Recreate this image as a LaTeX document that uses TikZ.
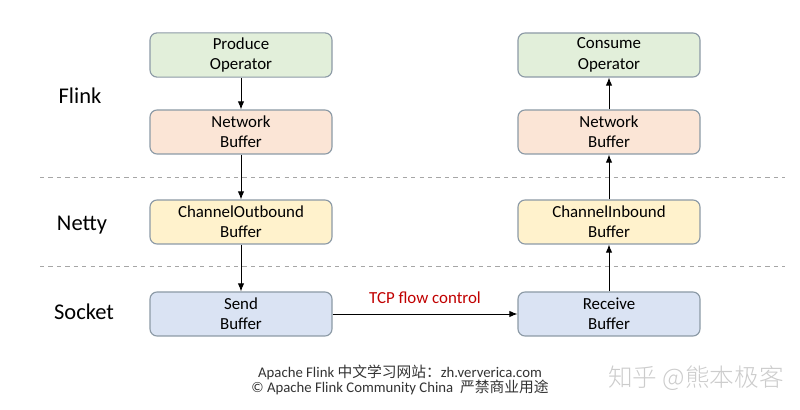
\documentclass[tikz,border=0pt]{standalone}
\usepackage{fontspec}
\setmainfont{Carlito}
\newfontfamily\cjk{Noto Sans CJK SC}
\newfontfamily\cjklight{Noto Sans CJK SC Light}
\usepackage{xcolor}
\usepackage{tikz}
\usetikzlibrary{arrows.meta, positioning, calc}
\definecolor{opgreen}{HTML}{E2EFDA}
\definecolor{netsalmon}{HTML}{FBE5D6}
\definecolor{nettyyellow}{HTML}{FFF2CC}
\definecolor{sockblue}{HTML}{DAE3F3}
\definecolor{boxline}{HTML}{8C9AA6}
\definecolor{tcpred}{HTML}{C00000}
\tikzset{
  bufbox/.style={
    draw=boxline, rounded corners=5pt, thick, align=center,
    font=\fontsize{12}{14.5}\selectfont, fill=#1,
    minimum width=4.55cm, minimum height=1.1cm
  },
  layerlabel/.style={
    font=\fontsize{16}{18}\selectfont, anchor=center
  },
  layerline/.style={
    dashed, gray!70, line width=0.5pt
  },
  flowarrow/.style={
    -{Latex[length=2mm, width=1.6mm]}, line width=0.7pt, black
  },
  footnote/.style={
    font=\fontsize{10.5}{12}\selectfont, text=gray!40!black
  },
}
\begin{document}
\begin{tikzpicture}
  \useasboundingbox (0,0) rectangle (20,10.25);
  % Sender side
  \node[bufbox=opgreen] (prod) at (6.025,8.875) {Produce\\Operator};
  \node[bufbox=netsalmon] (snet) at (6.025,6.95) {Network\\Buffer};
  \node[bufbox=nettyyellow] (outb) at (6.025,4.7) {ChannelOutbound\\Buffer};
  \node[bufbox=sockblue] (send) at (6.025,2.4) {Send\\Buffer};
  % Receiver side
  \node[bufbox=opgreen] (cons) at (15.225,8.875) {Consume\\Operator};
  \node[bufbox=netsalmon] (rnet) at (15.225,6.95) {Network\\Buffer};
  \node[bufbox=nettyyellow] (inb) at (15.225,4.7) {ChannelInbound\\Buffer};
  \node[bufbox=sockblue] (recv) at (15.225,2.4) {Receive\\Buffer};
  % Layers
  \node[layerlabel] (flink) at (2.0,7.85) {Flink};
  \node[layerlabel] (netty) at (2.05,4.62) {Netty};
  \node[layerlabel] (sock) at (2.1,2.45) {Socket};
  \coordinate (l1a) at (1.0,5.825);
  \coordinate (l1b) at (19.625,5.825);
  \coordinate (l2a) at (1.0,3.6);
  \coordinate (l2b) at (19.625,3.6);
  \draw[layerline] (l1a) -- (l1b);
  \draw[layerline] (l2a) -- (l2b);
  % Data path
  \draw[flowarrow] (prod) -- (snet);
  \draw[flowarrow] (snet) -- (outb);
  \draw[flowarrow] (outb) -- (send);
  \draw[flowarrow] (send) -- node[above=4pt, text=tcpred,
    font=\fontsize{12}{14}\selectfont] (tcp) {TCP flow control} (recv);
  \draw[flowarrow] (recv) -- (inb);
  \draw[flowarrow] (inb) -- (rnet);
  \draw[flowarrow] (rnet) -- (cons);
  % Footer
  \node[footnote] (foot1) at (10,0.95)
    {Apache Flink {\cjk 中文学习网站：}zh.ververica.com};
  \node[footnote] (foot2) at (10,0.56)
    {© Apache Flink Community China\ \ {\cjk 严禁商业用途}};
  \node[font=\fontsize{17.5}{19}\selectfont\cjklight, text=gray!40] (mark) at (17.4,0.8)
    {知乎 @熊本极客};
\end{tikzpicture}
\end{document}
